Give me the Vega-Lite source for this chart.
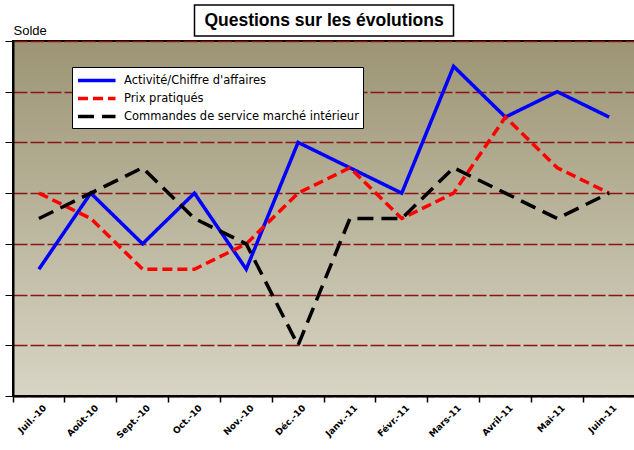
{
  "$schema": "https://vega.github.io/schema/vega-lite/v6.json",
  "padding": {"left": 3, "top": 4, "right": 0, "bottom": 0},
  "background": "white",
  "spacing": 5,
  "center": true,
  "bounds": "flush",
  "config": {
    "font": "DejaVu Sans"
  },
  "vconcat": [
    {
      "width": 259,
      "height": 31,
      "view": {"stroke": "black", "strokeWidth": 1.5, "fill": "white"},
      "data": {"values": [{"t": "Questions sur les évolutions"}]},
      "mark": {"type": "text", "font": "Liberation Sans", "fontWeight": "bold", "fontSize": 17.5, "color": "black", "baseline": "middle", "align": "center"},
      "encoding": {"text": {"field": "t"}}
    },
    {
      "width": 622,
      "height": 355,
      "view": {
        "stroke": "black",
        "strokeWidth": 2,
        "fill": {
          "gradient": "linear",
          "x1": 0, "y1": 0, "x2": 0, "y2": 1,
          "stops": [
            {"offset": 0, "color": "#9C9474"},
            {"offset": 1, "color": "#D8D5C5"}
          ]
        }
      },
      "data": {
        "values": [
          {"mois": "Juil.-10", "serie": "Activité/Chiffre d'affaires", "v": 25},
          {"mois": "Août-10", "serie": "Activité/Chiffre d'affaires", "v": 40},
          {"mois": "Sept.-10", "serie": "Activité/Chiffre d'affaires", "v": 30},
          {"mois": "Oct.-10", "serie": "Activité/Chiffre d'affaires", "v": 40},
          {"mois": "Nov.-10", "serie": "Activité/Chiffre d'affaires", "v": 25},
          {"mois": "Déc.-10", "serie": "Activité/Chiffre d'affaires", "v": 50},
          {"mois": "Janv.-11", "serie": "Activité/Chiffre d'affaires", "v": 45},
          {"mois": "Févr.-11", "serie": "Activité/Chiffre d'affaires", "v": 40},
          {"mois": "Mars-11", "serie": "Activité/Chiffre d'affaires", "v": 65},
          {"mois": "Avril-11", "serie": "Activité/Chiffre d'affaires", "v": 55},
          {"mois": "Mai-11", "serie": "Activité/Chiffre d'affaires", "v": 60},
          {"mois": "Juin-11", "serie": "Activité/Chiffre d'affaires", "v": 55},
          {"mois": "Juil.-10", "serie": "Prix pratiqués", "v": 40},
          {"mois": "Août-10", "serie": "Prix pratiqués", "v": 35},
          {"mois": "Sept.-10", "serie": "Prix pratiqués", "v": 25},
          {"mois": "Oct.-10", "serie": "Prix pratiqués", "v": 25},
          {"mois": "Nov.-10", "serie": "Prix pratiqués", "v": 30},
          {"mois": "Déc.-10", "serie": "Prix pratiqués", "v": 40},
          {"mois": "Janv.-11", "serie": "Prix pratiqués", "v": 45},
          {"mois": "Févr.-11", "serie": "Prix pratiqués", "v": 35},
          {"mois": "Mars-11", "serie": "Prix pratiqués", "v": 40},
          {"mois": "Avril-11", "serie": "Prix pratiqués", "v": 55},
          {"mois": "Mai-11", "serie": "Prix pratiqués", "v": 45},
          {"mois": "Juin-11", "serie": "Prix pratiqués", "v": 40},
          {"mois": "Juil.-10", "serie": "Commandes de service marché intérieur", "v": 35},
          {"mois": "Août-10", "serie": "Commandes de service marché intérieur", "v": 40},
          {"mois": "Sept.-10", "serie": "Commandes de service marché intérieur", "v": 45},
          {"mois": "Oct.-10", "serie": "Commandes de service marché intérieur", "v": 35},
          {"mois": "Nov.-10", "serie": "Commandes de service marché intérieur", "v": 30},
          {"mois": "Déc.-10", "serie": "Commandes de service marché intérieur", "v": 10},
          {"mois": "Janv.-11", "serie": "Commandes de service marché intérieur", "v": 35},
          {"mois": "Févr.-11", "serie": "Commandes de service marché intérieur", "v": 35},
          {"mois": "Mars-11", "serie": "Commandes de service marché intérieur", "v": 45},
          {"mois": "Avril-11", "serie": "Commandes de service marché intérieur", "v": 40},
          {"mois": "Mai-11", "serie": "Commandes de service marché intérieur", "v": 35},
          {"mois": "Juin-11", "serie": "Commandes de service marché intérieur", "v": 40}
        ]
      },
      "mark": {"type": "line", "strokeWidth": 3.5, "strokeJoin": "miter"},
      "encoding": {
        "x": {
          "field": "mois",
          "type": "ordinal",
          "sort": ["Juil.-10", "Août-10", "Sept.-10", "Oct.-10", "Nov.-10", "Déc.-10", "Janv.-11", "Févr.-11", "Mars-11", "Avril-11", "Mai-11", "Juin-11"],
          "scale": {"type": "band", "paddingInner": 0, "paddingOuter": 0},
          "axis": {
            "title": null,
            "bandPosition": 0,
            "labelOffset": 6,
            "labelAngle": -45,
            "labelAlign": "right",
            "labelBaseline": "middle",
            "labelFont": "DejaVu Sans",
            "labelFontWeight": "bold",
            "labelFontSize": 9,
            "labelColor": "black",
            "labelPadding": 4,
            "domainColor": "black",
            "domainWidth": 2,
            "tickColor": "black",
            "tickWidth": 1.5,
            "tickSize": 6,
            "grid": false
          }
        },
        "y": {
          "field": "v",
          "type": "quantitative",
          "scale": {"domain": [0, 70], "nice": false},
          "axis": {
            "title": "Solde",
            "titleAngle": 0,
            "titleAlign": "left",
            "titleBaseline": "bottom",
            "titleX": 0,
            "titleY": -4,
            "titleFont": "Liberation Sans",
            "titleFontWeight": "normal",
            "titleFontSize": 13,
            "titleColor": "black",
            "values": [0, 10, 20, 30, 40, 50, 60, 70],
            "labels": false,
            "domainColor": "black",
            "domainWidth": 2,
            "tickColor": "black",
            "tickWidth": 1,
            "tickSize": 8,
            "grid": true,
            "gridColor": "#8B1414",
            "gridWidth": 1.5,
            "gridDash": [14, 3]
          }
        },
        "color": {
          "field": "serie",
          "type": "nominal",
          "scale": {
            "domain": ["Activité/Chiffre d'affaires", "Prix pratiqués", "Commandes de service marché intérieur"],
            "range": ["#0000FF", "#FF0000", "#000000"]
          },
          "legend": {
            "title": null,
            "orient": "none",
            "legendX": 59,
            "legendY": 62,
            "fillColor": "white",
            "strokeColor": "black",
            "padding": 4,
            "symbolType": "M-1,0H4",
            "symbolSize": 225,
            "symbolStrokeWidth": 3.5,
            "labelFont": "DejaVu Sans",
            "labelFontSize": 11.5,
            "labelColor": "black",
            "labelOffset": 29,
            "rowPadding": 1,
            "labelLimit": 300
          }
        },
        "strokeDash": {
          "field": "serie",
          "type": "nominal",
          "scale": {
            "domain": ["Activité/Chiffre d'affaires", "Prix pratiqués", "Commandes de service marché intérieur"],
            "range": [[1, 0], [10, 5], [16, 8]]
          },
          "legend": {
            "title": null,
            "orient": "none",
            "legendX": 59,
            "legendY": 62,
            "fillColor": "white",
            "strokeColor": "black",
            "padding": 4,
            "symbolType": "M-1,0H4",
            "symbolSize": 225,
            "symbolStrokeWidth": 3.5,
            "labelFont": "DejaVu Sans",
            "labelFontSize": 11.5,
            "labelColor": "black",
            "labelOffset": 29,
            "rowPadding": 1,
            "labelLimit": 300
          }
        }
      }
    }
  ]
}
